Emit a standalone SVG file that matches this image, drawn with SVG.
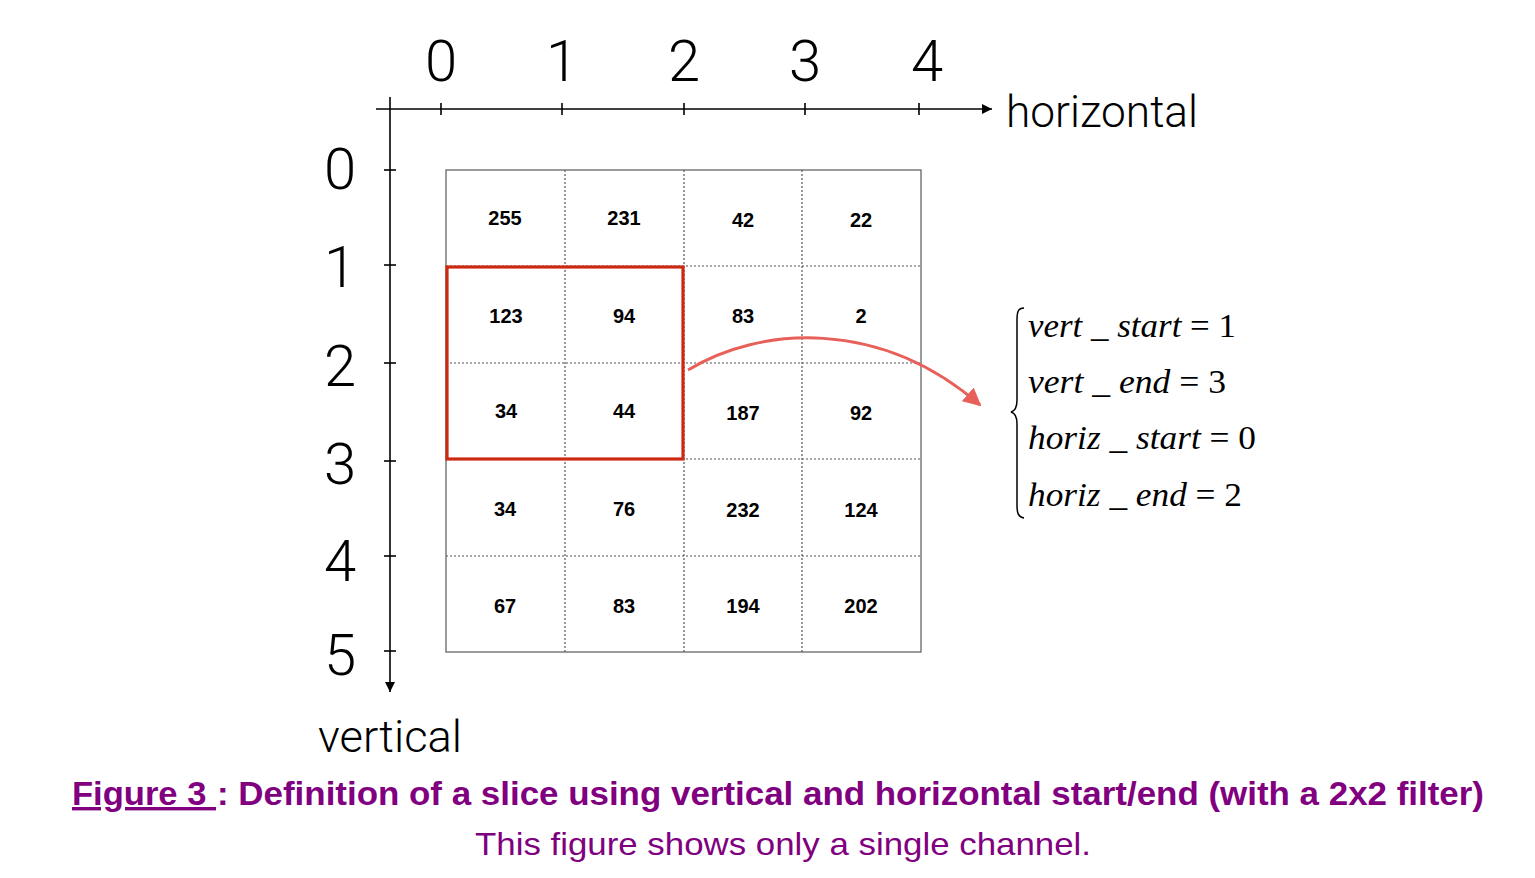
<svg xmlns="http://www.w3.org/2000/svg" width="1535" height="878" viewBox="0 0 1535 878">
<style>
.ax{stroke:#000;stroke-width:1.6;fill:none}
.lbl{font-family:Roboto,"Liberation Sans",sans-serif;font-weight:300;font-size:58px;fill:#000;text-anchor:middle}
.axname{font-family:Roboto,"Liberation Sans",sans-serif;font-weight:300;font-size:44px;fill:#000}
.grid{stroke:#555;stroke-width:1.2;stroke-dasharray:2 2;fill:none}
.num{font-family:"Liberation Sans",Arial,sans-serif;font-weight:bold;font-size:20px;fill:#000;text-anchor:middle}
.math{font-family:"Liberation Serif","Times New Roman",serif;font-size:34px;fill:#000}
.it{font-style:italic}
.cap{font-family:"Liberation Sans",Arial,sans-serif;fill:#800080}
</style>
<defs>
<marker id="ah" viewBox="0 0 10 10" refX="10" refY="5" markerWidth="10" markerHeight="10" markerUnits="userSpaceOnUse" orient="auto">
<path d="M0,0 L10,5 L0,10 z" fill="#000"/>
</marker>
<marker id="rh" viewBox="0 0 10 10" refX="9" refY="5" markerWidth="6" markerHeight="6" orient="auto">
<path d="M0,0 L10,5 L0,10 z" fill="#e8605a"/>
</marker>
</defs>
<rect width="1535" height="878" fill="#fff"/>
<g id="axes">
<line class="ax" x1="376" y1="109" x2="992" y2="109" marker-end="url(#ah)"/>
<line class="ax" x1="390" y1="97" x2="390" y2="692" marker-end="url(#ah)"/>
<g class="ax">
<line x1="441" y1="103" x2="441" y2="115"/>
<line x1="562" y1="103" x2="562" y2="115"/>
<line x1="684" y1="103" x2="684" y2="115"/>
<line x1="805" y1="103" x2="805" y2="115"/>
<line x1="919" y1="103" x2="919" y2="115"/>
<line x1="384" y1="170" x2="396" y2="170"/>
<line x1="384" y1="265" x2="396" y2="265"/>
<line x1="384" y1="363" x2="396" y2="363"/>
<line x1="384" y1="461" x2="396" y2="461"/>
<line x1="384" y1="556" x2="396" y2="556"/>
<line x1="384" y1="651" x2="396" y2="651"/>
</g>
<text class="lbl" x="441" y="81">0</text>
<text class="lbl" x="562" y="81">1</text>
<text class="lbl" x="684" y="81">2</text>
<text class="lbl" x="805" y="81">3</text>
<text class="lbl" x="927" y="81">4</text>
<text class="lbl" x="340" y="189">0</text>
<text class="lbl" x="340" y="287">1</text>
<text class="lbl" x="340" y="386">2</text>
<text class="lbl" x="340" y="484">3</text>
<text class="lbl" x="340" y="581">4</text>
<text class="lbl" x="340" y="675">5</text>
<text class="axname" x="1006" y="127" textLength="192" lengthAdjust="spacingAndGlyphs">horizontal</text>
<text class="axname" x="318" y="752" textLength="144" lengthAdjust="spacingAndGlyphs">vertical</text>
</g>
<g id="grid">
<line class="grid" x1="565" y1="170" x2="565" y2="652"/>
<line class="grid" x1="684" y1="170" x2="684" y2="652"/>
<line class="grid" x1="802" y1="170" x2="802" y2="652"/>
<line class="grid" x1="446" y1="266" x2="921" y2="266"/>
<line class="grid" x1="446" y1="363" x2="921" y2="363"/>
<line class="grid" x1="446" y1="459" x2="921" y2="459"/>
<line class="grid" x1="446" y1="556" x2="921" y2="556"/>
<rect x="446" y="170" width="475" height="482" fill="none" stroke="#666" stroke-width="1.3"/>
</g>
<g id="cells">
<g id="c00"><text class="num" x="505" y="225">255</text></g>
<g id="c01"><text class="num" x="624" y="225">231</text></g>
<g id="c02"><text class="num" x="743" y="227">42</text></g>
<g id="c03"><text class="num" x="861" y="227">22</text></g>
<g id="c10"><text class="num" x="506" y="323">123</text></g>
<g id="c11"><text class="num" x="624" y="323">94</text></g>
<g id="c12"><text class="num" x="743" y="323">83</text></g>
<g id="c13"><text class="num" x="861" y="323">2</text></g>
<g id="c20"><text class="num" x="506" y="418">34</text></g>
<g id="c21"><text class="num" x="624" y="418">44</text></g>
<g id="c22"><text class="num" x="743" y="420">187</text></g>
<g id="c23"><text class="num" x="861" y="420">92</text></g>
<g id="c30"><text class="num" x="505" y="516">34</text></g>
<g id="c31"><text class="num" x="624" y="516">76</text></g>
<g id="c32"><text class="num" x="743" y="517">232</text></g>
<g id="c33"><text class="num" x="861" y="517">124</text></g>
<g id="c40"><text class="num" x="505" y="613">67</text></g>
<g id="c41"><text class="num" x="624" y="613">83</text></g>
<g id="c42"><text class="num" x="743" y="613">194</text></g>
<g id="c43"><text class="num" x="861" y="613">202</text></g>
</g>
<g id="slice">
<rect x="447" y="267" width="236" height="192" fill="none" stroke="#cc2a12" stroke-width="3.2"/>
</g>
<g id="connectors">
<path d="M688,370 C760,326 880,318 980,405" fill="none" stroke="#e8605a" stroke-width="3" marker-end="url(#rh)"/>
</g>
<g id="equations">
<path d="M1024,308 C1018,308 1017,312 1017,320 L1017,400 C1017,408 1015,411 1011,412 C1015,413 1017,416 1017,424 L1017,505 C1017,513 1018,517 1024,518" fill="none" stroke="#000" stroke-width="1.5"/>
<text class="math" x="1028" y="337" textLength="208" lengthAdjust="spacingAndGlyphs"><tspan class="it">vert _ start</tspan> = 1</text>
<text class="math" x="1028" y="393" textLength="198" lengthAdjust="spacingAndGlyphs"><tspan class="it">vert _ end</tspan> = 3</text>
<text class="math" x="1028" y="449" textLength="228" lengthAdjust="spacingAndGlyphs"><tspan class="it">horiz _ start</tspan> = 0</text>
<text class="math" x="1028" y="506" textLength="214" lengthAdjust="spacingAndGlyphs"><tspan class="it">horiz _ end</tspan> = 2</text>
</g>
<g id="caption">
<text class="cap" xml:space="preserve" x="72" y="805" font-size="34" font-weight="bold" text-decoration="underline" textLength="144" lengthAdjust="spacingAndGlyphs">Figure 3 </text>
<text class="cap" x="217" y="805" font-size="34" font-weight="bold" textLength="1267" lengthAdjust="spacingAndGlyphs">: Definition of a slice using vertical and horizontal start/end (with a 2x2 filter)</text>
<text class="cap" x="475" y="855" font-size="32" textLength="616" lengthAdjust="spacingAndGlyphs">This figure shows only a single channel.</text>
</g>
</svg>
